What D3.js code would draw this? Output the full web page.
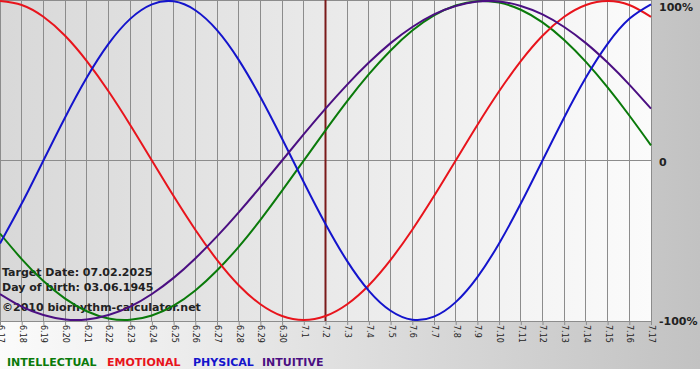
<!DOCTYPE html>
<html lang="en">
<head>
    <meta charset="UTF-8">
    <title>Biorhythm chart</title>
    <script src="https://d3js.org/d3.v7.min.js"></script>
    <style>
        body {
            margin: 0;
            padding: 0;
            background: #ffffff;
            font-family: "DejaVu Sans", Verdana, sans-serif;
        }
        svg { display: block; }
    </style>
</head>
<body>
    <svg width="700" height="380"></svg>
    <script>
        // days shown on the x axis (month.day)
        const days = ["6.17","6.18","6.19","6.20","6.21","6.22","6.23","6.24","6.25","6.26","6.27","6.28","6.29","6.30",
                      "7.1","7.2","7.3","7.4","7.5","7.6","7.7","7.8","7.9","7.10","7.11","7.12","7.13","7.14","7.15","7.16","7.17"];
        const targetDay = "7.2";

        // cycle values per day, -1 .. 1
        const intellectual = [-0.458,-0.618,-0.756,-0.866,-0.945,-0.990,-0.999,-0.972,-0.910,-0.815,-0.690,-0.541,-0.372,-0.189,
                              0.000,0.189,0.372,0.541,0.690,0.815,0.910,0.972,0.999,0.990,0.945,0.866,0.756,0.618,0.458,0.282,0.095];
        const emotional = [1.000,0.975,0.901,0.782,0.623,0.434,0.223,0.000,-0.223,-0.434,-0.623,-0.782,-0.901,-0.975,
                           -1.000,-0.975,-0.901,-0.782,-0.623,-0.434,-0.223,0.000,0.223,0.434,0.623,0.782,0.901,0.975,1.000,0.975,0.901];
        const physical = [-0.520,-0.270,0.000,0.270,0.520,0.731,0.888,0.979,0.998,0.942,0.817,0.631,0.398,0.136,
                          -0.136,-0.398,-0.631,-0.817,-0.942,-0.998,-0.979,-0.888,-0.731,-0.520,-0.270,0.000,0.270,0.520,0.731,0.888,0.979];
        const intuitive = [-0.837,-0.916,-0.969,-0.997,-0.997,-0.969,-0.916,-0.837,-0.736,-0.614,-0.476,-0.325,-0.165,
                           0.000,0.165,0.325,0.476,0.614,0.736,0.837,0.916,0.969,0.997,0.997,0.969,0.916,0.837,0.736,0.614,0.476,0.325];

        const series = [
            { name: "INTELLECTUAL", values: intellectual, color: "#0a7a0a" },
            { name: "EMOTIONAL", values: emotional, color: "#e8141c" },
            { name: "PHYSICAL", values: physical, color: "#1414cc" },
            { name: "INTUITIVE", values: intuitive, color: "#4b0f82" }
        ];
        const yLabels = [{ v: 1, t: "100%" }, { v: 0, t: "0" }, { v: -1, t: "-100%" }];
        const infoLines = ["Target Date: 07.02.2025", "Day of birth: 03.06.1945", "\u00a92010 biorhythm-calculator.net"];

        const plotW = 651, plotTop = 1, plotBottom = 321;

        const svg = d3.select("svg");
        const defs = svg.append("defs");

        const outerGrad = defs.append("linearGradient").attr("id", "outerGrad");
        outerGrad.append("stop").attr("offset", "0%").attr("stop-color", "#fbfbfb");
        outerGrad.append("stop").attr("offset", "100%").attr("stop-color", "#c2c2c2");

        const plotGrad = defs.append("linearGradient").attr("id", "plotGrad");
        plotGrad.append("stop").attr("offset", "0%").attr("stop-color", "#d8d8d8");
        plotGrad.append("stop").attr("offset", "100%").attr("stop-color", "#fbfbfb");

        svg.append("rect").attr("width", 700).attr("height", 369).attr("fill", "url(#outerGrad)");
        svg.append("rect").attr("width", plotW).attr("height", plotBottom).attr("fill", "url(#plotGrad)");

        const x = d3.scalePoint().domain(days).range([0, plotW]);
        const y = d3.scaleLinear().domain([-1, 1]).range([plotBottom - 1, plotTop]);

        // vertical day grid
        svg.append("g")
            .selectAll("line")
            .data(days)
            .join("line")
            .attr("x1", d => x(d)).attr("x2", d => x(d))
            .attr("y1", 0).attr("y2", plotBottom)
            .attr("stroke", "#8c8c8c")
            .attr("stroke-width", 1)
            .attr("shape-rendering", "crispEdges");

        // top border and zero line
        svg.append("line").attr("x1", 0).attr("x2", plotW).attr("y1", 0.5).attr("y2", 0.5)
            .attr("stroke", "#8c8c8c");
        svg.append("line").attr("x1", 0).attr("x2", plotW).attr("y1", y(0)).attr("y2", y(0))
            .attr("stroke", "#8c8c8c").attr("shape-rendering", "crispEdges");

        // bottom axis
        const xAxis = d3.axisBottom(x).tickSize(4).tickPadding(3);
        const axisG = svg.append("g")
            .attr("transform", `translate(0,${plotBottom})`)
            .call(xAxis);
        axisG.select(".domain").attr("stroke", "#8c8c8c").attr("d", `M0,0.5H${plotW}`);
        axisG.selectAll(".tick line").attr("stroke", "#8c8c8c");
        axisG.selectAll(".tick text")
            .attr("transform", "rotate(90)")
            .attr("x", 4).attr("y", 0).attr("dy", "0.32em")
            .attr("text-anchor", "start")
            .attr("font-family", "DejaVu Sans, Verdana, sans-serif")
            .attr("font-size", 8)
            .attr("fill", "#222");

        // right side percent labels
        svg.append("g")
            .selectAll("text")
            .data(yLabels)
            .join("text")
            .attr("x", 659)
            .attr("y", d => Math.max(y(d.v) + 5, 11))
            .attr("font-size", 11)
            .attr("font-weight", "bold")
            .attr("fill", "#222")
            .text(d => d.t);

        // target day marker
        svg.append("line")
            .attr("x1", x(targetDay)).attr("x2", x(targetDay))
            .attr("y1", 0).attr("y2", plotBottom)
            .attr("stroke", "#7a1a1a")
            .attr("stroke-width", 2);

        // info text
        svg.append("g")
            .selectAll("text")
            .data(infoLines)
            .join("text")
            .attr("x", 2)
            .attr("y", (d, i) => [276, 291, 311][i])
            .attr("font-size", 11)
            .attr("font-weight", "bold")
            .attr("fill", "#222")
            .text(d => d);

        // cycle curves
        const line = d3.line()
            .x((d, i) => x(days[i]))
            .y(d => y(d))
            .curve(d3.curveNatural);

        svg.append("g")
            .selectAll("path")
            .data(series)
            .join("path")
            .attr("d", d => line(d.values))
            .attr("fill", "none")
            .attr("stroke", d => d.color)
            .attr("stroke-width", 2);

        // legend
        const legendX = [7, 107, 193, 262];
        svg.append("g")
            .selectAll("text")
            .data(series)
            .join("text")
            .attr("x", (d, i) => legendX[i])
            .attr("y", 366)
            .attr("font-size", 11)
            .attr("font-weight", "bold")
            .attr("fill", d => d.color)
            .text(d => d.name);
    </script>
</body>
</html>
